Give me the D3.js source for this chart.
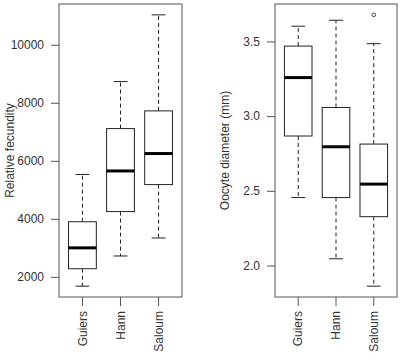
<!DOCTYPE html>
<html>
<head>
<meta charset="utf-8">
<script src="https://cdn.jsdelivr.net/npm/d3@7"></script>
<style>
  body { margin: 0; background: #fff; }
  svg text { font-family: "Liberation Sans", Arial, sans-serif; fill: #333; }
</style>
</head>
<body>
<svg id="chart" width="402" height="359"></svg>
<script>
// groups along x
var categories = ['Guiers', 'Hann', 'Saloum'];

// five number summaries: [min, q1, median, q3, max]
var fecundityStats = [
  [1680, 2280, 3000, 3900, 5530],
  [2720, 4250, 5650, 7110, 8730],
  [3340, 5180, 6250, 7720, 11030]
];
var fecundityTicks = [2000, 4000, 6000, 8000, 10000];

var diameterStats = [
  [2.455, 2.867, 3.258, 3.469, 3.602],
  [2.045, 2.455, 2.795, 3.058, 3.642],
  [1.862, 2.327, 2.545, 2.813, 3.485]
];
var diameterTicks = [2.0, 2.5, 3.0, 3.5];
var diameterOutliers = [[], [], [3.678]];

var svg = d3.select('#chart');

// R style range padding (4% each side)
function paddedDomain(stats, outliers) {
  var vals = [];
  stats.forEach(function(s, i) {
    vals = vals.concat(s);
    if (outliers) vals = vals.concat(outliers[i]);
  });
  var lo = d3.min(vals), hi = d3.max(vals);
  var pad = (hi - lo) * 0.04;
  return [lo - pad, hi + pad];
}

function drawPanel(opts) {
  var g = svg.append('g');
  var x = d3.scaleBand()
    .domain(categories)
    .range([opts.left, opts.right])
    .paddingInner(0.27)
    .paddingOuter(0.25);
  var y = d3.scaleLinear()
    .domain(paddedDomain(opts.stats, opts.outliers))
    .range([opts.bottom, opts.top]);

  var boxW = x.bandwidth();

  var groups = g.selectAll('.grp')
    .data(opts.stats)
    .enter().append('g')
    .attr('class', 'grp')
    .attr('transform', function(d, i) {
      return 'translate(' + (x(categories[i]) + boxW / 2) + ',0)';
    });

  // whiskers
  groups.append('line')
    .attr('x1', 0).attr('x2', 0)
    .attr('y1', function(d) { return y(d[3]); })
    .attr('y2', function(d) { return y(d[4]); })
    .attr('stroke', '#222').attr('stroke-dasharray', '4,3');
  groups.append('line')
    .attr('x1', 0).attr('x2', 0)
    .attr('y1', function(d) { return y(d[1]); })
    .attr('y2', function(d) { return y(d[0]); })
    .attr('stroke', '#222').attr('stroke-dasharray', '4,3');

  // whisker caps
  [0, 4].forEach(function(k) {
    groups.append('line')
      .attr('x1', -boxW / 4).attr('x2', boxW / 4)
      .attr('y1', function(d) { return y(d[k]); })
      .attr('y2', function(d) { return y(d[k]); })
      .attr('stroke', '#222');
  });

  // boxes
  groups.append('rect')
    .attr('x', -boxW / 2)
    .attr('width', boxW)
    .attr('y', function(d) { return y(d[3]); })
    .attr('height', function(d) { return y(d[1]) - y(d[3]); })
    .attr('fill', '#fff')
    .attr('stroke', '#222');

  // medians
  groups.append('line')
    .attr('x1', -boxW / 2).attr('x2', boxW / 2)
    .attr('y1', function(d) { return y(d[2]); })
    .attr('y2', function(d) { return y(d[2]); })
    .attr('stroke', '#000').attr('stroke-width', 3);

  // outliers
  if (opts.outliers) {
    opts.outliers.forEach(function(list, i) {
      g.selectAll(null)
        .data(list)
        .enter().append('circle')
        .attr('cx', x(categories[i]) + boxW / 2)
        .attr('cy', function(v) { return y(v); })
        .attr('r', 1.8)
        .attr('fill', 'none')
        .attr('stroke', '#444');
    });
  }

  // frame
  g.append('rect')
    .attr('x', opts.left).attr('y', opts.top)
    .attr('width', opts.right - opts.left)
    .attr('height', opts.bottom - opts.top)
    .attr('fill', 'none')
    .attr('stroke', '#555');

  // y axis
  var yAxis = g.append('g')
    .attr('transform', 'translate(' + opts.left + ',0)')
    .call(d3.axisLeft(y).tickValues(opts.ticks).tickSize(8).tickPadding(7)
      .tickFormat(opts.format));
  yAxis.select('.domain').remove();
  yAxis.selectAll('line').attr('stroke', '#555');
  yAxis.selectAll('text').attr('font-size', 12).style('fill', '#333')
    .attr('font-family', '"Liberation Sans", Arial, sans-serif');

  // x axis
  var xAxis = g.append('g')
    .attr('transform', 'translate(0,' + opts.bottom + ')')
    .call(d3.axisBottom(x).tickSize(9).tickPadding(0));
  xAxis.select('.domain').remove();
  xAxis.selectAll('line').attr('stroke', '#555');
  xAxis.selectAll('text')
    .attr('font-size', 12).style('fill', '#333')
    .attr('font-family', '"Liberation Sans", Arial, sans-serif')
    .attr('text-anchor', 'end')
    .attr('x', 0).attr('y', 0)
    .attr('dy', '0.35em')
    .attr('transform', 'translate(0,14) rotate(-90)');

  // y title
  g.append('text')
    .attr('transform', 'translate(' + opts.titleX + ',' + ((opts.top + opts.bottom) / 2) + ') rotate(-90)')
    .attr('text-anchor', 'middle')
    .attr('font-size', 12)
    .text(opts.title);
}

drawPanel({
  left: 59, right: 182, top: 4, bottom: 297,
  stats: fecundityStats, ticks: fecundityTicks,
  format: d3.format('d'),
  title: 'Relative fecundity', titleX: 14
});

drawPanel({
  left: 275, right: 397, top: 4, bottom: 297,
  stats: diameterStats, outliers: diameterOutliers, ticks: diameterTicks,
  format: d3.format('.1f'),
  title: 'Oocyte diameter (mm)', titleX: 229
});
</script>
</body>
</html>
